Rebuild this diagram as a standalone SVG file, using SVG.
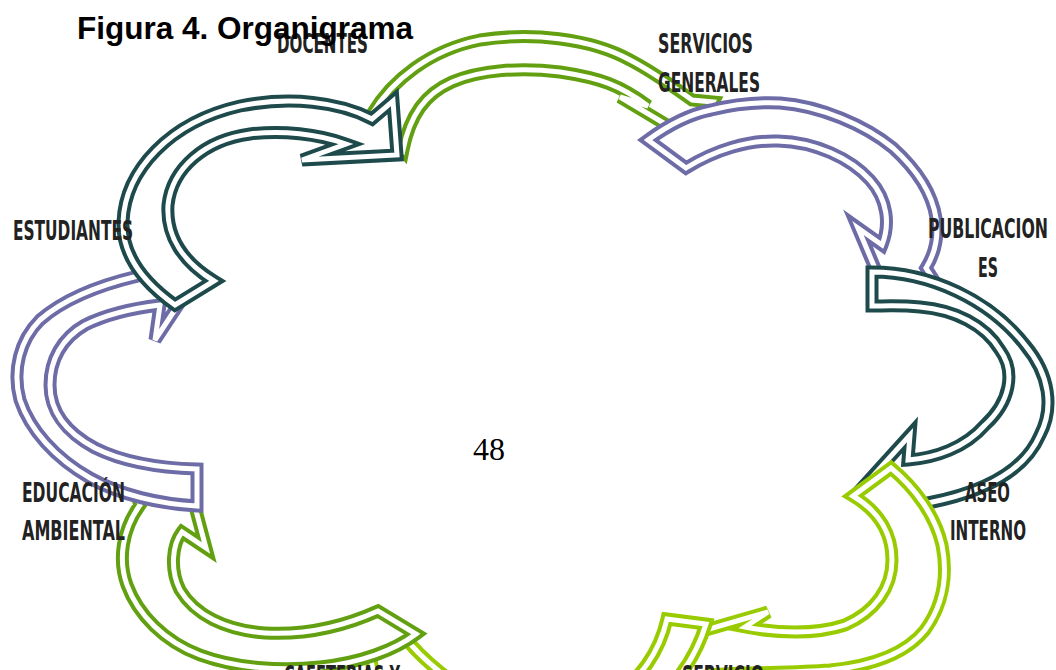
<svg xmlns="http://www.w3.org/2000/svg" width="1056" height="670" viewBox="0 0 1056 670">
<defs>
<style>
.ln{fill:#fff;stroke-width:13;stroke-linejoin:miter;stroke-miterlimit:4}
.gp{fill:none;stroke:#fff;stroke-width:5;stroke-linejoin:miter;stroke-miterlimit:4}
.teal .ln{stroke:#1f4a4c}
.olive .ln{stroke:#62a012}
.lime .ln{stroke:#99cc00}
.purple .ln{stroke:#6d6ca7}
.lbl{font-family:"DejaVu Sans Condensed","DejaVu Sans",sans-serif;font-weight:bold;font-size:27px;fill:#222}
</style>
<path id="a1" d="M175,305 C140,280 122,252 123,222 C125,170 170,122 240,106 C290,96 340,102 372,119 L393,101 L397,155 L302,160 L346,144 C318,134 282,130 250,134 C205,140 172,168 168,205 C166,236 183,262 214,281 Z"/>
<path id="a2" d="M372,114 C392,80 430,50 480,40 C530,32 590,38 630,60 C655,73 675,88 692,100 L713,102 L692,140 L620,97 L648,106 C620,85 600,78 560,72 C520,67 480,70 452,82 C425,94 410,115 403,150 Z"/>
<path id="a3" d="M648,140 C670,124 690,114 711,110 C735,104 760,102 780,103 C820,106 865,125 893,148 C915,168 932,192 936,218 C939,238 934,255 926,268 L940,290 L885,292 L858,228 L882,245 C890,225 888,200 870,180 C850,158 815,142 778,141 C748,140 715,150 686,168 Z"/>
<path id="a4" d="M872,272 C930,272 990,300 1025,345 C1050,375 1054,408 1040,435 C1025,470 985,492 928,503 L915,520 L862,488 L910,435 L908,460 C935,458 965,448 985,425 C1010,402 1016,372 1000,350 C985,325 955,310 920,307 C900,305 885,306 872,306 Z"/>
<path id="a5" d="M891,468 C915,488 935,515 942,545 C948,575 943,605 925,630 C905,655 870,666 830,670 C790,673 745,672 710,675 L670,700 L685,636 L768,612 L745,627 C775,633 815,635 845,625 C875,612 892,588 892,560 C892,535 880,512 853,496 Z"/>
<path id="a6" d="M706,624 C695,660 670,700 620,720 C560,745 470,740 420,715 C405,707 398,698 392,690 L378,700 L368,642 L388,621 L402,634 C412,647 425,660 440,672 C480,705 560,712 610,695 C640,683 660,650 667,619 Z"/>
<path id="a7" d="M416,634 C395,650 360,663 320,667 C280,671 235,668 200,655 C165,642 138,615 127,585 C118,560 122,530 140,505 L132,480 L190,488 L206,548 L182,532 C172,545 170,570 180,590 C195,615 225,630 265,633 C300,635 340,628 378,611 Z"/>
<path id="a8" d="M197,506 C160,504 120,495 90,478 C55,458 30,430 20,400 C12,370 20,340 40,320 C65,298 100,285 138,276 L142,255 L188,290 L155,340 L160,305 C135,308 105,315 85,325 C62,338 50,360 50,385 C50,410 65,432 95,448 C125,463 160,468 197,469 Z"/>
</defs>
<rect width="1056" height="670" fill="#fff"/>
<g id="connectors">
<g id="c-docentes-servicios" class="olive"><use href="#a2" class="ln"/><use href="#a2" class="gp"/></g>
<g id="c-servicios-publicaciones" class="purple"><use href="#a3" class="ln"/><use href="#a3" class="gp"/></g>
<g id="c-publicaciones-aseo" class="teal"><use href="#a4" class="ln"/><use href="#a4" class="gp"/></g>
<g id="c-aseo-servicio" class="lime"><use href="#a5" class="ln"/><use href="#a5" class="gp"/></g>
<g id="c-servicio-cafeterias" class="lime"><use href="#a6" class="ln"/><use href="#a6" class="gp"/></g>
<g id="c-cafeterias-educacion" class="olive"><use href="#a7" class="ln"/><use href="#a7" class="gp"/></g>
<g id="c-educacion-estudiantes" class="purple"><use href="#a8" class="ln"/><use href="#a8" class="gp"/></g>
<g id="c-estudiantes-docentes" class="teal"><use href="#a1" class="ln"/><use href="#a1" class="gp"/></g>
</g>
<g id="n-docentes"><text class="lbl" x="277" y="53" textLength="91" lengthAdjust="spacingAndGlyphs">DOCENTES</text></g>
<g id="n-servicios-generales"><text class="lbl" x="658" y="53" textLength="95" lengthAdjust="spacingAndGlyphs">SERVICIOS</text><text class="lbl" x="658" y="92" textLength="102" lengthAdjust="spacingAndGlyphs">GENERALES</text></g>
<g id="n-publicaciones"><text class="lbl" x="928" y="238" textLength="120" lengthAdjust="spacingAndGlyphs">PUBLICACION</text><text class="lbl" x="978" y="277" textLength="20" lengthAdjust="spacingAndGlyphs">ES</text></g>
<g id="n-aseo"><text class="lbl" x="965" y="502" textLength="45" lengthAdjust="spacingAndGlyphs">ASEO</text><text class="lbl" x="950" y="540" textLength="76" lengthAdjust="spacingAndGlyphs">INTERNO</text></g>
<g id="n-servicio"><text class="lbl" x="682" y="685" textLength="82" lengthAdjust="spacingAndGlyphs">SERVICIO</text></g>
<g id="n-cafeterias"><text class="lbl" x="284" y="685" textLength="116" lengthAdjust="spacingAndGlyphs">CAFETERIAS Y</text></g>
<g id="n-educacion"><text class="lbl" x="22" y="502" textLength="103" lengthAdjust="spacingAndGlyphs">EDUCACIÓN</text><text class="lbl" x="22" y="540" textLength="103" lengthAdjust="spacingAndGlyphs">AMBIENTAL</text></g>
<g id="n-estudiantes"><text class="lbl" x="13" y="240" textLength="120" lengthAdjust="spacingAndGlyphs">ESTUDIANTES</text></g>
<g id="title"><text x="77" y="39" font-family="'Liberation Sans',Arial,sans-serif" font-weight="bold" font-size="31.5" fill="#000">Figura 4. Organigrama</text></g>
<g id="page"><text x="489" y="460" text-anchor="middle" font-family="'Liberation Serif','Times New Roman',serif" font-size="32" fill="#000">48</text></g>
</svg>
